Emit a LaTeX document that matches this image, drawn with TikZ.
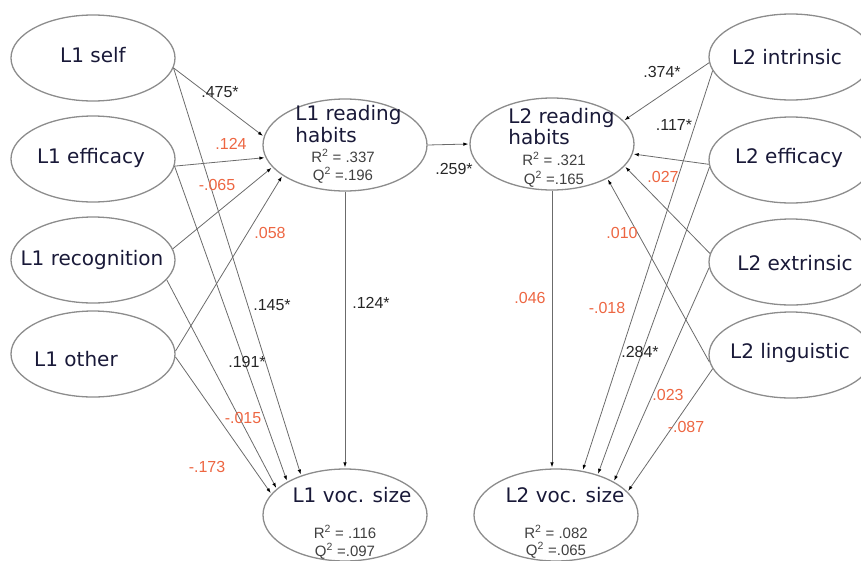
\documentclass[tikz,border=0pt]{standalone}
\usepackage{fontspec}
\setmainfont{DejaVu Sans}
\newfontfamily\arialfont{Liberation Sans}
\usetikzlibrary{shapes.geometric,arrows.meta}
\tikzset{every picture/.style={line width=0.75pt}}
\definecolor{ellgray}{rgb}{0.55,0.55,0.55}
\definecolor{linkgray}{rgb}{0.42,0.42,0.42}
\definecolor{coefred}{rgb}{0.93,0.40,0.26}
\definecolor{namenavy}{rgb}{0.10,0.10,0.22}
\definecolor{statgray}{rgb}{0.25,0.25,0.25}

\begin{document}
\begin{tikzpicture}[
    x=1pt, y=-1pt,
    latent/.style={
        ellipse, draw=ellgray, line width=1.3pt,
        minimum width=164pt, minimum height=86pt, inner sep=0pt
    },
    endo/.style={latent, minimum height=92pt},
    lvname/.style={text=namenavy, font=\fontsize{20}{22}\selectfont, inner sep=0pt},
    stat/.style={text=statgray, font=\arialfont\fontsize{15}{17}\selectfont, inner sep=0pt},
    link/.style={
        draw=linkgray, line width=0.8pt, shorten >=1pt,
        -{Latex[length=5pt, width=3.5pt, color=black]}
    },
    sig/.style={text=black!85, font=\arialfont\fontsize{16}{18}\selectfont, inner sep=0pt},
    nsig/.style={sig, text=coefred},
]

\useasboundingbox (0,0) rectangle (861,560);

%% ===================== LATENT VARIABLES =====================

% L1 predictors (left column)
\node[latent] (l1self) at (93,58)  {};
\node[latent] (l1eff)  at (93,159) {};
\node[latent] (l1rec)  at (93,260) {};
\node[latent] (l1oth)  at (93,354) {};

% L2 predictors (right column, cut by the page edge)
\node[latent] (l2int)  at (791,57)  {};
\node[latent] (l2eff)  at (791,160) {};
\node[latent] (l2ext)  at (791,262) {};
\node[latent] (l2ling) at (791,355) {};

% mediators and outcomes
\node[endo] (l1rh)  at (345,145) {};
\node[endo] (l2rh)  at (552,144) {};
\node[endo] (l1voc) at (345,515) {};
\node[endo] (l2voc) at (556,515) {};

%% ===================== NAMES =====================
\node[lvname] at (93,55)  {L1 self};
\node[lvname] at (91,158) {L1 efficacy};
\node[lvname] at (92,260) {L1 recognition};
\node[lvname] at (76,359) {L1 other};

\node[lvname] at (787,57)  {L2 intrinsic};
\node[lvname] at (789,158) {L2 efficacy};
\node[lvname] at (795,263) {L2 extrinsic};
\node[lvname] at (790,353) {L2 linguistic};

\node[lvname, anchor=base west] at (295,120) {L1 reading};
\node[lvname, anchor=base west] at (295,142) {habits};
\node[stat, anchor=base] at (343,162) {R\textsuperscript{2} = .337};
\node[stat, anchor=base] at (343,180) {Q\textsuperscript{2} =.196};

\node[lvname, anchor=base west] at (508,123) {L2 reading};
\node[lvname, anchor=base west] at (508,144) {habits};
\node[stat, anchor=base] at (554,165) {R\textsuperscript{2} = .321};
\node[stat, anchor=base] at (554,184) {Q\textsuperscript{2} =.165};

\node[lvname, anchor=base] at (352,502) {L1 voc. size};
\node[stat, anchor=base] at (345,538) {R\textsuperscript{2} = .116};
\node[stat, anchor=base] at (345,556) {Q\textsuperscript{2} =.097};

\node[lvname, anchor=base] at (565,502) {L2 voc. size};
\node[stat, anchor=base] at (556,538) {R\textsuperscript{2} = .082};
\node[stat, anchor=base] at (556,555) {Q\textsuperscript{2} =.065};

%% ===================== PATHS =====================

% L1 predictors -> L1 reading habits
\draw[link] (l1self.-7) -- (l1rh.174);
\draw[link] (l1eff.-5)  -- (l1rh.189);
\draw[link] (l1rec.8)   -- (l1rh.197);
\draw[link] (l1oth.2)   -- (l1rh.206);

% L1 predictors -> L1 voc. size
\draw[link] (l1self.-7) -- (l1voc.138);
\draw[link] (l1eff.-5)  -- (l1voc.150);
\draw[link] (l1rec.-15) -- (l1voc.159);
\draw[link] (l1oth.-2)  -- (l1voc.164);

% L2 predictors -> L2 reading habits
\draw[link] (l2int.184)  -- (l2rh.18);
\draw[link] (l2eff.183)  -- (l2rh.-7);
\draw[link] (l2ext.174)  -- (l2rh.-17);
\draw[link] (l2ling.185) -- (l2rh.-32);

% L2 predictors -> L2 voc. size
\draw[link] (l2int.190)  -- (l2voc.59);
\draw[link] (l2eff.185)  -- (l2voc.44);
\draw[link] (l2ext.184)  -- (l2voc.30);
\draw[link] (l2ling.190) -- (l2voc.18);

% reading habits
\draw[link] (l1rh.south) -- (l1voc.north);
\draw[link] (l2rh.south) -- (l2rh.south |- l2voc.north);
\draw[link] (l1rh.east)  -- (l2rh.west);

%% ===================== COEFFICIENTS =====================
%% black = significant (*), red = not significant
\node[sig]  at (220,92)  {.475*};
\node[nsig] at (231,144) {.124};
\node[nsig] at (217,185) {-.065};
\node[nsig] at (270,233) {.058};
\node[sig]  at (272,305) {.145*};
\node[sig]  at (247,362) {.191*};
\node[nsig] at (243,418) {-.015};
\node[nsig] at (207,467) {-.173};
\node[sig]  at (371,303) {.124*};
\node[sig]  at (454,169) {.259*};

\node[sig]  at (662,72)  {.374*};
\node[sig]  at (674,125) {.117*};
\node[nsig] at (663,177) {.027};
\node[nsig] at (622,233) {.010};
\node[nsig] at (530,298) {.046};
\node[nsig] at (607,308) {-.018};
\node[sig]  at (640,352) {.284*};
\node[nsig] at (668,395) {.023};
\node[nsig] at (686,427) {-.087};

\end{tikzpicture}
\end{document}
